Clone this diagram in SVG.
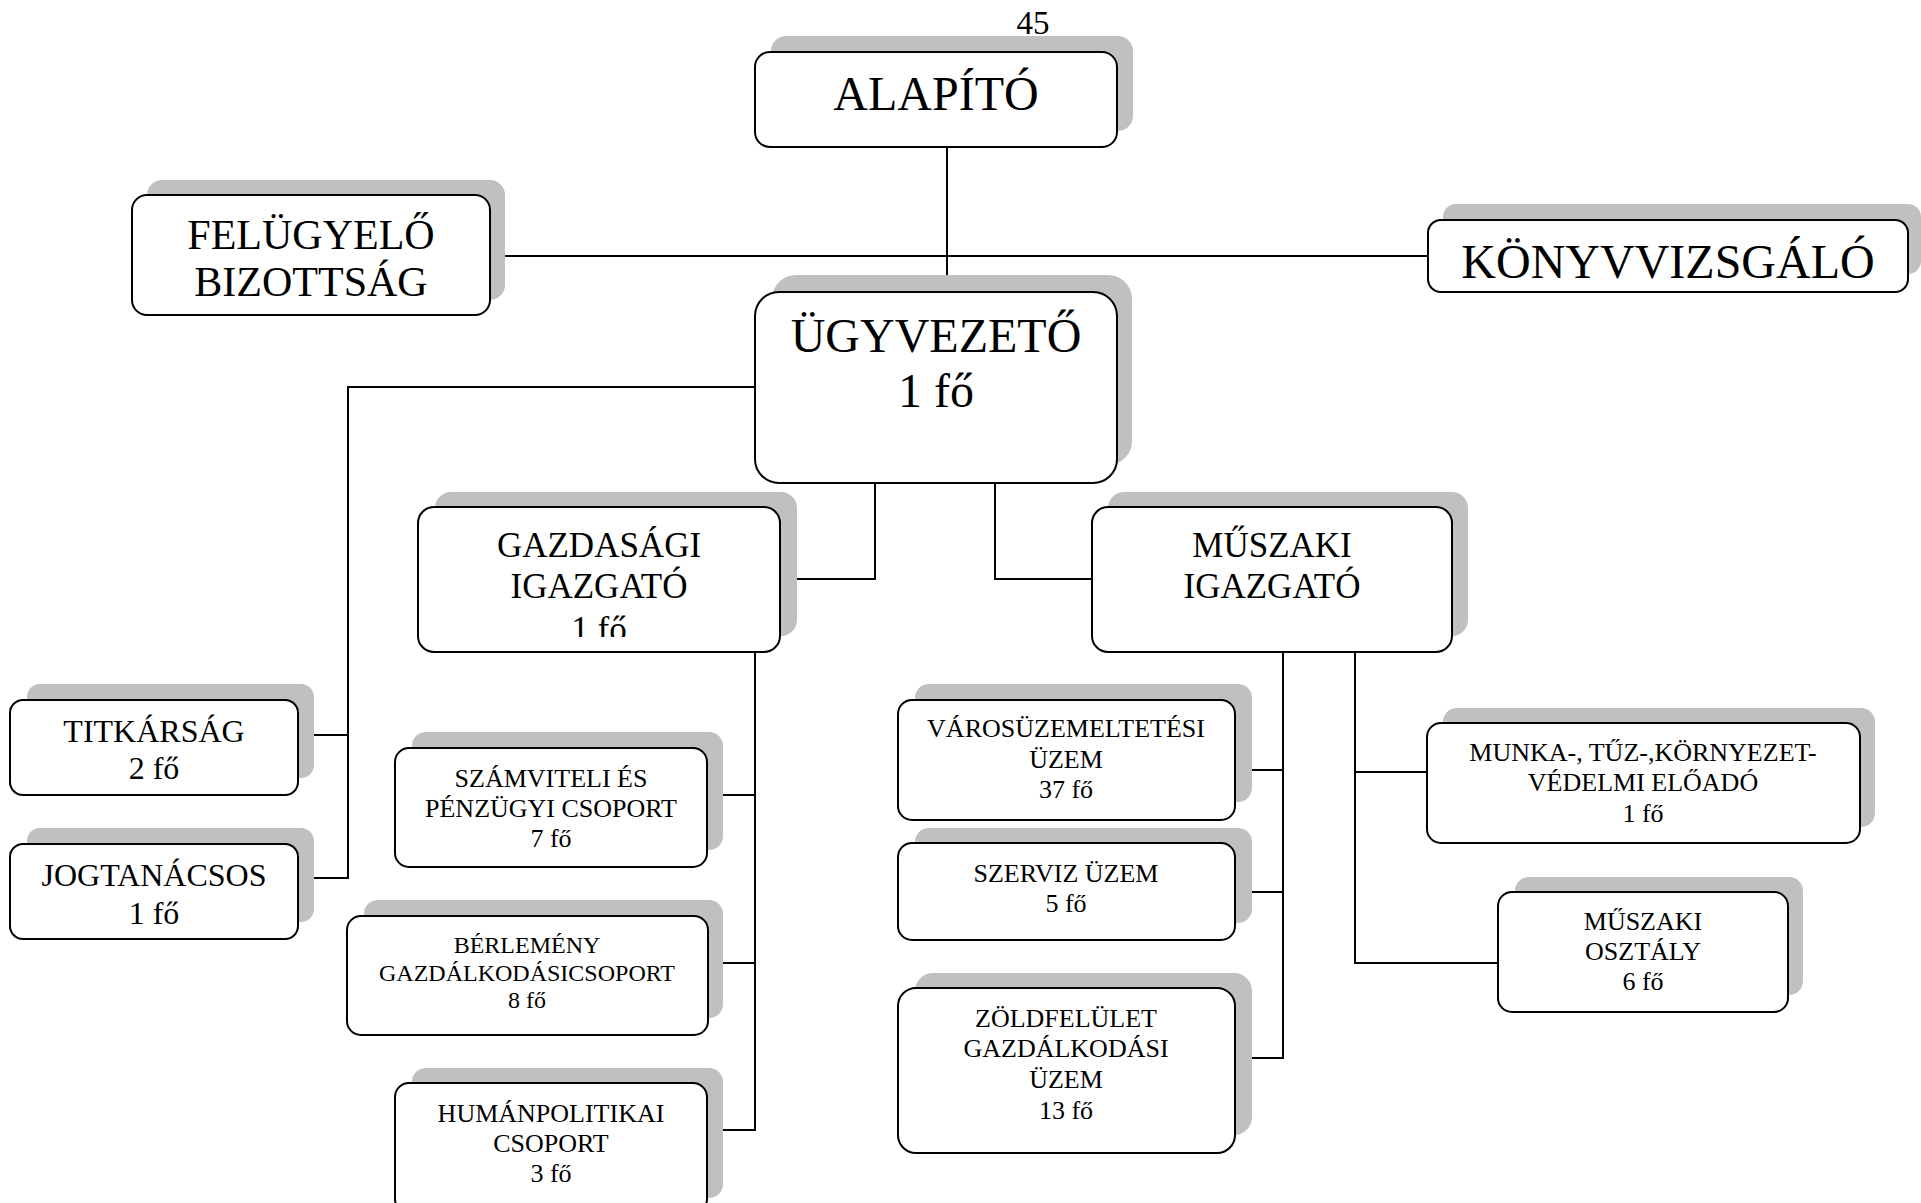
<svg xmlns="http://www.w3.org/2000/svg" width="1921" height="1203" viewBox="0 0 1921 1203">
<style>
.sh{fill:#c0c0c0}
.bx{fill:#fff;stroke:#000;stroke-width:2}
.ln{fill:none;stroke:#000;stroke-width:2}
text{font-family:"Liberation Serif","Times New Roman",serif;fill:#000;text-anchor:middle}
.t48{font-size:48px}
.t42{font-size:42px}
.t35{font-size:35px}
.t32{font-size:32px}
.t26{font-size:26px}
.t24{font-size:24px}
</style>
<defs>
<clipPath id="clipG"><rect x="418" y="500" width="362" height="137"/></clipPath>
</defs>
<rect width="1921" height="1203" fill="#fff"/>
<text x="1033" y="34" style="font-size:33px">45</text>

<g id="connectors">
<path class="ln" d="M947 147V292"/>
<path class="ln" d="M490 256H1428"/>
<path class="ln" d="M755 387H348V878H298M298 735H348"/>
<path class="ln" d="M875 483V579H780"/>
<path class="ln" d="M995 483V579H1092"/>
<path class="ln" d="M755 652V1130H708M708 795H755M708 963H755"/>
<path class="ln" d="M1283 652V1058H1235M1235 770H1283M1235 892H1283"/>
<path class="ln" d="M1355 652V963H1498M1355 772H1427"/>
</g>

<g id="alapito">
<rect class="sh" x="771" y="36" width="362" height="95" rx="15"/>
<rect class="bx" x="755" y="52" width="362" height="95" rx="15"/>
<text class="t48" x="936" y="110">ALAPÍTÓ</text>
</g>

<g id="felugyelo">
<rect class="sh" x="147" y="180" width="358" height="120" rx="15"/>
<rect class="bx" x="132" y="195" width="358" height="120" rx="15"/>
<text class="t42" x="311" y="249">FELÜGYELŐ</text>
<text class="t42" x="311" y="296">BIZOTTSÁG</text>
</g>

<g id="konyvvizsgalo">
<rect class="sh" x="1443" y="204" width="478" height="70" rx="13"/>
<rect class="bx" x="1428" y="220" width="480" height="72" rx="13"/>
<text class="t48" x="1668" y="278">KÖNYVVIZSGÁLÓ</text>
</g>

<g id="ugyvezeto">
<rect class="sh" x="772" y="275" width="360" height="190" rx="24"/>
<rect class="bx" x="755" y="292" width="362" height="191" rx="24"/>
<text class="t48" x="936" y="352">ÜGYVEZETŐ</text>
<text class="t48" x="936" y="407">1 fő</text>
</g>

<g id="gazdasagi">
<rect class="sh" x="435" y="492" width="362" height="144" rx="16"/>
<rect class="bx" x="418" y="507" width="362" height="145" rx="16"/>
<text class="t35" x="599" y="557">GAZDASÁGI</text>
<text class="t35" x="599" y="598">IGAZGATÓ</text>
<text class="t35" x="599" y="641" clip-path="url(#clipG)">1 fő</text>
</g>

<g id="muszaki">
<rect class="sh" x="1108" y="492" width="360" height="144" rx="16"/>
<rect class="bx" x="1092" y="507" width="360" height="145" rx="16"/>
<text class="t35" x="1272" y="557">MŰSZAKI</text>
<text class="t35" x="1272" y="598">IGAZGATÓ</text>
</g>

<g id="titkarsag">
<rect class="sh" x="27" y="684" width="287" height="94" rx="13"/>
<rect class="bx" x="10" y="700" width="288" height="95" rx="13"/>
<text class="t32" x="154" y="742">TITKÁRSÁG</text>
<text class="t32" x="154" y="779">2 fő</text>
</g>

<g id="jogtanacsos">
<rect class="sh" x="27" y="828" width="287" height="94" rx="13"/>
<rect class="bx" x="10" y="844" width="288" height="95" rx="13"/>
<text class="t32" x="154" y="886">JOGTANÁCSOS</text>
<text class="t32" x="154" y="924">1 fő</text>
</g>

<g id="szamviteli">
<rect class="sh" x="412" y="732" width="311" height="118" rx="14"/>
<rect class="bx" x="395" y="748" width="312" height="119" rx="14"/>
<text class="t26" x="551" y="787">SZÁMVITELI ÉS</text>
<text class="t26" x="551" y="817">PÉNZÜGYI CSOPORT</text>
<text class="t26" x="551" y="847">7 fő</text>
</g>

<g id="berlemeny">
<rect class="sh" x="364" y="900" width="359" height="118" rx="14"/>
<rect class="bx" x="347" y="916" width="361" height="119" rx="14"/>
<text class="t24" x="527" y="953">BÉRLEMÉNY</text>
<text class="t24" x="527" y="981">GAZDÁLKODÁSICSOPORT</text>
<text class="t24" x="527" y="1008">8 fő</text>
</g>

<g id="humanpolitikai">
<rect class="sh" x="412" y="1068" width="311" height="130" rx="14"/>
<rect class="bx" x="395" y="1083" width="312" height="130" rx="14"/>
<text class="t26" x="551" y="1122">HUMÁNPOLITIKAI</text>
<text class="t26" x="551" y="1152">CSOPORT</text>
<text class="t26" x="551" y="1182">3 fő</text>
</g>

<g id="varosuzem">
<rect class="sh" x="915" y="684" width="337" height="118" rx="14"/>
<rect class="bx" x="898" y="700" width="337" height="120" rx="14"/>
<text class="t26" x="1066" y="737">VÁROSÜZEMELTETÉSI</text>
<text class="t26" x="1066" y="768">ÜZEM</text>
<text class="t26" x="1066" y="798">37 fő</text>
</g>

<g id="szerviz">
<rect class="sh" x="915" y="828" width="337" height="95" rx="14"/>
<rect class="bx" x="898" y="843" width="337" height="97" rx="14"/>
<text class="t26" x="1066" y="882">SZERVIZ ÜZEM</text>
<text class="t26" x="1066" y="912">5 fő</text>
</g>

<g id="zoldfelulet">
<rect class="sh" x="915" y="973" width="337" height="162" rx="18"/>
<rect class="bx" x="898" y="988" width="337" height="165" rx="18"/>
<text class="t26" x="1066" y="1027">ZÖLDFELÜLET</text>
<text class="t26" x="1066" y="1057">GAZDÁLKODÁSI</text>
<text class="t26" x="1066" y="1088">ÜZEM</text>
<text class="t26" x="1066" y="1119">13 fő</text>
</g>

<g id="munkavedelem">
<rect class="sh" x="1443" y="708" width="432" height="119" rx="14"/>
<rect class="bx" x="1427" y="723" width="433" height="120" rx="14"/>
<text class="t26" x="1643" y="761">MUNKA-, TŰZ-,KÖRNYEZET-</text>
<text class="t26" x="1643" y="791">VÉDELMI ELŐADÓ</text>
<text class="t26" x="1643" y="822">1 fő</text>
</g>

<g id="muszaki-osztaly">
<rect class="sh" x="1515" y="877" width="288" height="118" rx="14"/>
<rect class="bx" x="1498" y="892" width="290" height="120" rx="14"/>
<text class="t26" x="1643" y="930">MŰSZAKI</text>
<text class="t26" x="1643" y="960">OSZTÁLY</text>
<text class="t26" x="1643" y="990">6 fő</text>
</g>
</svg>
